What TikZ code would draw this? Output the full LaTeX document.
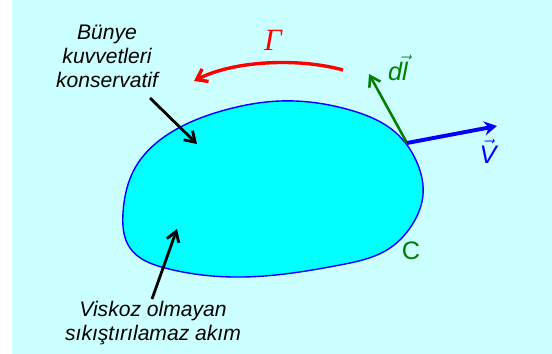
\documentclass[tikz,border=0pt]{standalone}
\usepackage{fontspec}
\setmainfont{Liberation Sans}
\newfontfamily\gammafont{Liberation Serif}
\usetikzlibrary{arrows.meta,hobby}

\definecolor{bgcyan}{RGB}{204,255,255}
\definecolor{blobcyan}{RGB}{0,255,255}
\definecolor{dgreen}{RGB}{0,128,0}

\begin{document}
\begin{tikzpicture}[
    x=0.025cm, y=-0.025cm,
    label/.style={align=center, font=\itshape\fontsize{15}{17}\selectfont, inner sep=0pt},
    vlabel/.style={font=\itshape\fontsize{18}{20}\selectfont, inner sep=0pt},
    pointer/.style={-{Straight Barb[length=7pt,width=9pt]}, line width=2pt, black},
    circ/.style={-{Straight Barb[length=7pt,width=10pt]}, line width=2.4pt, red}
]
    \useasboundingbox (0,0) rectangle (552,354);
    \fill[bgcyan] (12,0) rectangle (552,354);

    % Fluid region
    \draw[blue, line width=1pt, fill=blobcyan] plot[closed hobby] coordinates {
        (280,101) (350,110) (395,132) (418,165) (423,195) (412,225) (390,248)
        (340,265) (243,277) (165,268) (130,248) (123,213) (135,168) (175,130)
        (225,110)};
    \coordinate (P) at (407,143);

    % Nodes
    \node[label] (bunye) at (107,56) {Bünye\\kuvvetleri\\konservatif};
    \node[label] (viskoz) at (153,323) {Viskoz olmayan\\sıkıştırılamaz akım};
    \node[font=\gammafont\itshape\fontsize{22}{24}\selectfont, red, inner sep=0pt] (gamma) at (273,40) {Γ};
    \node[vlabel, dgreen] (dl) at (398,68) {d$\vec{\mbox{\itshape l}}$};
    \node[vlabel, blue] (v) at (488,151) {$\vec{\mbox{\itshape V}}$};
    \node[font=\fontsize{18}{20}\selectfont, dgreen, inner sep=0pt] (C) at (411,251) {C};

    % Arrow ends
    \coordinate (b1) at (150,98);
    \coordinate (b2) at (197,144);
    \coordinate (k1) at (152,299);
    \coordinate (k2) at (177,229);
    \coordinate (g1) at (343,70);
    \coordinate (g2) at (194,81);
    \coordinate (dltip) at (369,74);
    \coordinate (vtip) at (497,126);

    % Arrows
    \draw[pointer] (b1) -- (b2);
    \draw[pointer] (k1) -- (k2);
    \draw[circ] (g1) .. controls (300,58) and (235,60) .. (g2);
    \draw[-{Straight Barb[length=7pt,width=9pt]}, line width=1.8pt, dgreen] (P) -- (dltip);
    \draw[-{Stealth[length=9pt,width=10pt]}, line width=2.8pt, blue] (P) -- (vtip);

\end{tikzpicture}
\end{document}
